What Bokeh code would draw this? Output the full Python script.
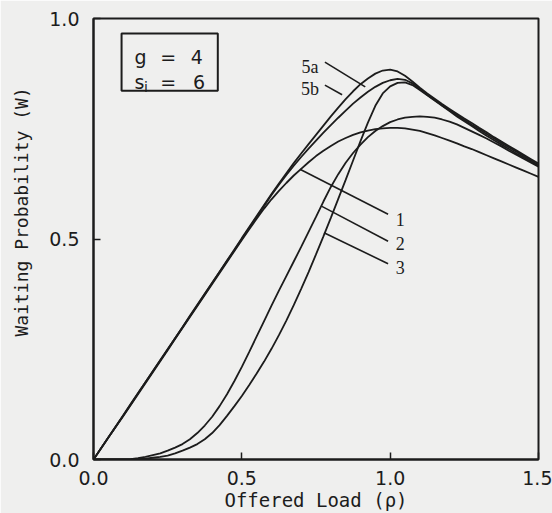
from bokeh.plotting import figure
from bokeh.models import Range1d, FixedTicker, Label, BoxAnnotation, ColumnDataSource, PrintfTickFormatter
from bokeh.core.properties import value
from bokeh.embed import file_html
from bokeh.resources import INLINE

# ---------------- data ----------------
rho = [0.000, 0.025, 0.050, 0.075, 0.100, 0.125, 0.150, 0.175, 0.200, 0.225,
       0.250, 0.275, 0.300, 0.325, 0.350, 0.375, 0.400, 0.425, 0.450, 0.475,
       0.500, 0.525, 0.550, 0.575, 0.600, 0.625, 0.650, 0.675, 0.700, 0.725,
       0.750, 0.775, 0.800, 0.825, 0.850, 0.875, 0.900, 0.925, 0.950, 0.975,
       1.000, 1.025, 1.050, 1.075, 1.100, 1.125, 1.150, 1.175, 1.200, 1.225,
       1.250, 1.275, 1.300, 1.325, 1.350, 1.375, 1.400, 1.425, 1.450, 1.475, 1.500]

w_curve1 = [0.000, 0.025, 0.050, 0.074, 0.098, 0.123, 0.148, 0.173, 0.198, 0.223,
            0.248, 0.273, 0.298, 0.323, 0.348, 0.373, 0.398, 0.423, 0.448, 0.473,
            0.498, 0.522, 0.546, 0.569, 0.590, 0.609, 0.627, 0.644, 0.659, 0.674,
            0.688, 0.700, 0.711, 0.721, 0.729, 0.736, 0.742, 0.746, 0.749, 0.751,
            0.752, 0.752, 0.751, 0.748, 0.745, 0.740, 0.735, 0.729, 0.723, 0.717,
            0.710, 0.704, 0.697, 0.690, 0.683, 0.676, 0.669, 0.662, 0.655, 0.648, 0.641]

w_curve2 = [0.000, 0.000, 0.000, 0.000, 0.000, 0.001, 0.003, 0.006, 0.010, 0.014,
            0.020, 0.027, 0.035, 0.046, 0.060, 0.077, 0.097, 0.121, 0.148, 0.178,
            0.210, 0.244, 0.279, 0.314, 0.349, 0.383, 0.416, 0.449, 0.482, 0.516,
            0.550, 0.585, 0.618, 0.647, 0.673, 0.695, 0.714, 0.731, 0.745, 0.756,
            0.765, 0.771, 0.775, 0.777, 0.778, 0.777, 0.775, 0.771, 0.766, 0.760,
            0.752, 0.744, 0.736, 0.728, 0.719, 0.710, 0.700, 0.691, 0.682, 0.673, 0.664]

w_curve3 = [0.000, 0.000, 0.000, 0.000, 0.000, 0.000, 0.001, 0.002, 0.004, 0.006,
            0.009, 0.014, 0.020, 0.027, 0.035, 0.046, 0.060, 0.078, 0.099, 0.121,
            0.144, 0.169, 0.195, 0.222, 0.251, 0.282, 0.315, 0.350, 0.387, 0.425,
            0.465, 0.506, 0.548, 0.591, 0.634, 0.678, 0.722, 0.764, 0.802, 0.830,
            0.846, 0.854, 0.855, 0.849, 0.838, 0.826, 0.814, 0.802, 0.790, 0.778,
            0.767, 0.756, 0.745, 0.734, 0.724, 0.714, 0.704, 0.694, 0.685, 0.675, 0.666]

w_curve5a = [0.000, 0.025, 0.050, 0.075, 0.100, 0.125, 0.150, 0.175, 0.200, 0.225,
             0.250, 0.275, 0.300, 0.326, 0.351, 0.376, 0.401, 0.426, 0.451, 0.476,
             0.502, 0.527, 0.552, 0.577, 0.602, 0.626, 0.649, 0.672, 0.694, 0.715,
             0.736, 0.757, 0.778, 0.798, 0.817, 0.835, 0.851, 0.864, 0.875, 0.882,
             0.884, 0.880, 0.870, 0.857, 0.843, 0.830, 0.818, 0.806, 0.795, 0.784,
             0.773, 0.763, 0.752, 0.742, 0.731, 0.721, 0.711, 0.701, 0.691, 0.681, 0.671]

w_curve5b = [0.000, 0.025, 0.050, 0.075, 0.100, 0.125, 0.150, 0.175, 0.200, 0.225,
             0.250, 0.275, 0.300, 0.325, 0.350, 0.375, 0.400, 0.425, 0.450, 0.475,
             0.500, 0.525, 0.550, 0.575, 0.600, 0.623, 0.645, 0.666, 0.686, 0.705,
             0.723, 0.741, 0.758, 0.775, 0.791, 0.807, 0.821, 0.834, 0.845, 0.854,
             0.860, 0.863, 0.861, 0.853, 0.840, 0.827, 0.815, 0.803, 0.792, 0.781,
             0.770, 0.759, 0.749, 0.738, 0.728, 0.718, 0.708, 0.698, 0.688, 0.678, 0.668]

curve_names = ["1", "2", "3", "5a", "5b"]

# curve labels and their leader lines (data coordinates)
lab_text = ["5a", "5b", "1", "2", "3"]
lab_x = [0.730, 0.730, 1.034, 1.034, 1.034]
lab_y = [0.890, 0.841, 0.545, 0.490, 0.436]
lead_x0 = [0.780, 0.780, 0.696, 0.770, 0.777]
lead_y0 = [0.901, 0.849, 0.658, 0.574, 0.514]
lead_x1 = [0.916, 0.838, 0.993, 0.993, 0.993]
lead_y1 = [0.845, 0.827, 0.556, 0.495, 0.444]

x_ticks = [0.0, 0.5, 1.0, 1.5]
y_ticks = [0.0, 0.5, 1.0]

# ---------------- styling ----------------
BG = "#efefee"
INK = "#1c1c1c"
SANS = "DejaVu Sans"
MONO = "DejaVu Sans Mono"

p = figure(width=552, height=513, x_range=Range1d(0, 1.5), y_range=Range1d(0, 1),
           output_backend="svg", toolbar_location=None,
           min_border_left=93, min_border_right=14, min_border_top=18, min_border_bottom=51)

p.background_fill_color = BG
p.border_fill_color = BG
p.xgrid.visible = False
p.ygrid.visible = False
p.outline_line_color = INK
p.outline_line_width = 2

for ax, ticks in ((p.xaxis[0], x_ticks), (p.yaxis[0], y_ticks)):
    ax.ticker = FixedTicker(ticks=ticks)
    ax.formatter = PrintfTickFormatter(format="%.1f")
    ax.axis_line_color = INK
    ax.axis_line_width = 2
    ax.major_tick_line_color = INK
    ax.major_tick_line_width = 1.5
    ax.major_tick_in = 7
    ax.major_tick_out = 0
    ax.minor_tick_in = 0
    ax.minor_tick_out = 0
    ax.major_label_text_font = SANS
    ax.major_label_text_font_size = "19px"
    ax.major_label_text_color = INK
    ax.axis_label_text_font = MONO
    ax.axis_label_text_font_size = "19px"
    ax.axis_label_text_font_style = "normal"
    ax.axis_label_text_color = INK

p.xaxis[0].axis_label = "Offered Load (\u03c1)"
p.xaxis[0].major_label_standoff = 11
p.xaxis[0].axis_label_standoff = 1
p.yaxis[0].axis_label = "\u00a0" * 5 + "Waiting Probability (W)"
p.yaxis[0].axis_label_text_font_size = "18px"
p.yaxis[0].major_label_standoff = 14
p.yaxis[0].axis_label_standoff = 14

# curves
for w in (w_curve1, w_curve2, w_curve3, w_curve5a, w_curve5b):
    p.line(rho, w, line_color=INK, line_width=1.8)

# leader lines and curve labels
lead_src = ColumnDataSource(dict(x0=lead_x0, y0=lead_y0, x1=lead_x1, y1=lead_y1))
p.segment("x0", "y0", "x1", "y1", source=lead_src, line_color=INK, line_width=1.6)
lab_src = ColumnDataSource(dict(x=lab_x, y=lab_y, t=lab_text))
p.text("x", "y", text="t", source=lab_src, text_font=value("Liberation Serif"),
       text_font_size="18px", text_align="center", text_baseline="middle", text_color=INK)

# parameter box
p.add_layout(BoxAnnotation(left=0.0946, right=0.419, bottom=0.836, top=0.966,
                           fill_alpha=0, line_color=INK, line_width=2, line_alpha=1))

def lab(x, y, t, size="19px", align="left"):
    p.add_layout(Label(x=x, y=y, text=t, text_font=SANS, text_font_size=size,
                       text_align=align, text_baseline="alphabetic", text_color=INK))

lab(0.138, 0.912, "g")
lab(0.252, 0.912, "=", align="center")
lab(0.348, 0.912, "4", align="center")
lab(0.138, 0.856, "s")
lab(0.170, 0.845, "i", size="14px")
lab(0.252, 0.856, "=", align="center")
lab(0.356, 0.856, "6", align="center")

open("out.html", "w").write(file_html(p, INLINE))
